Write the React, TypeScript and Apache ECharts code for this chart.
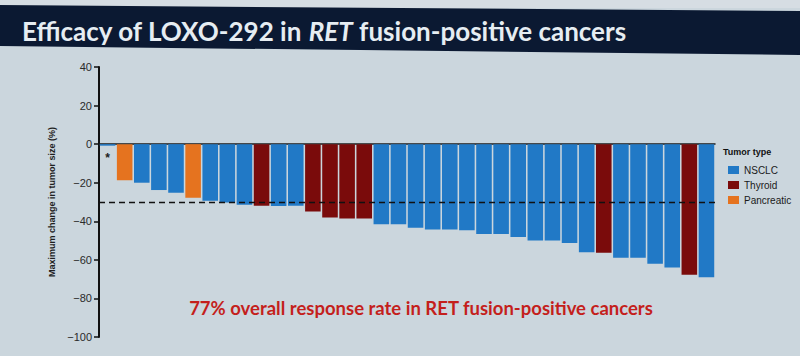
import React, { useEffect, useRef } from "react";
import * as echarts from "echarts";

const categories = Array.from({ length: 36 }, (_, i) => String(i + 1));
const changes = [-0.8, -18.7, -20, -23.8, -25.2, -27.8, -29.3, -30.2, -31.4, -31.9, -32.1, -32, -34.9, -38.1, -38.6, -38.6,
  -41.5, -41.5, -43.3, -44.2, -44.2, -44.7, -46.6, -46.6, -48.2, -49.9, -49.9, -51.3, -56, -56.3, -58.9, -58.9, -62, -63.9, -67.7, -69];
const tumorTypes = ["N", "P", "N", "N", "N", "P", "N", "N", "N", "T", "N", "N", "T", "T", "T", "T",
  "N", "N", "N", "N", "N", "N", "N", "N", "N", "N", "N", "N", "N", "T", "N", "N", "N", "N", "T", "N"];
const typeKeys = ["N", "T", "P"];
const typeNames = ["NSCLC", "Thyroid", "Pancreatic"];
const typeColors = ["#2179c6", "#7a0b0b", "#e5731f"];
const responseThreshold = -30;

export default function App() {
  const ref = useRef<HTMLDivElement>(null);
  useEffect(() => {
    const chart = echarts.init(ref.current!, null, { renderer: "svg" });
    const series: any[] = typeKeys.map((k, si) => ({
      name: typeNames[si],
      type: "bar",
      stack: "all",
      barCategoryGap: "9%",
      itemStyle: { color: typeColors[si] },
      data: changes.map((v, i) => (tumorTypes[i] === k ? v : null)),
      ...(si === 0
        ? {
            markLine: {
              silent: true,
              symbol: ["none", "none"],
              label: { show: false },
              lineStyle: { type: [6, 4], color: "#111", width: 1.3 },
              data: [{ yAxis: responseThreshold }],
            },
            markPoint: {
              symbol: "circle",
              symbolSize: 0,
              label: { show: true, formatter: "*", color: "#222", fontSize: 12, fontWeight: "bold", position: "inside" },
              data: [{ coord: ["1", -7] }],
            },
          }
        : {}),
    }));
    chart.setOption({
      animation: false,
      backgroundColor: "#cbd6dd",
      grid: { left: 99, right: 85, top: 67, bottom: 19 },
      legend: {
        orient: "vertical",
        left: 723,
        top: 160,
        itemWidth: 11,
        itemHeight: 8,
        itemGap: 5,
        icon: "rect",
        textStyle: { fontSize: 10, color: "#1a1a1a", fontFamily: "Liberation Sans" },
        data: typeNames,
      },
      xAxis: {
        type: "category",
        data: categories,
        axisLine: { lineStyle: { color: "#1a1a1a", width: 1.5 } },
        axisTick: { show: false },
        axisLabel: { show: false },
      },
      yAxis: {
        type: "value",
        min: -100,
        max: 40,
        interval: 20,
        name: "Maximum change in tumor size (%)",
        nameLocation: "middle",
        nameGap: 40,
        nameTextStyle: { fontSize: 9, fontWeight: "bold", color: "#1f1f1f", fontFamily: "Liberation Sans" },
        splitLine: { show: false },
        axisLine: { show: true, lineStyle: { color: "#111", width: 2 } },
        axisTick: { show: true, length: 5, lineStyle: { color: "#111", width: 1.5 } },
        axisLabel: {
          fontSize: 11,
          color: "#2a2a2a",
          fontFamily: "Liberation Sans",
          margin: 7,
          formatter: (v: number) => (v < 0 ? "\u2212" + Math.abs(v) : String(v)),
        },
      },
      graphic: [
        { type: "rect", shape: { x: 0, y: 0, width: 800, height: 8 }, style: { fill: "#d6dde3" }, z: -1 },
        {
          type: "polygon",
          shape: { points: [[0, 5], [800, 11], [800, 55], [0, 46]] },
          style: { fill: "#0b1932" },
        },
        {
          type: "text",
          x: 22,
          y: 31,
          style: {
            text: "{a|Efficacy of LOXO-292 in }{b|RET}{a| fusion-positive cancers}",
            verticalAlign: "middle",
            rich: {
              a: { fontSize: 26, fontFamily: "Lato", fontWeight: "bold", fill: "#e6edf2" },
              b: { fontSize: 26, fontFamily: "Lato", fontWeight: "bold", fontStyle: "italic", fill: "#e6edf2" },
            },
          },
        },
        {
          type: "text",
          x: 723,
          y: 152,
          style: { text: "Tumor type", fontSize: 9, fontWeight: "bold", fontFamily: "Liberation Sans", fill: "#111", verticalAlign: "middle" },
        },
        {
          type: "text",
          x: 421,
          y: 308,
          style: {
            text: "77% overall response rate in RET fusion-positive cancers",
            fontSize: 18.5,
            fontWeight: "bold",
            fontFamily: "Lato",
            fill: "#c41f1c",
            align: "center",
            verticalAlign: "middle",
          },
        },
      ],
      series,
    });
    return () => chart.dispose();
  }, []);
  return <div ref={ref} style={{ position: "absolute", left: 0, top: 0, width: 800, height: 356 }} />;
}
